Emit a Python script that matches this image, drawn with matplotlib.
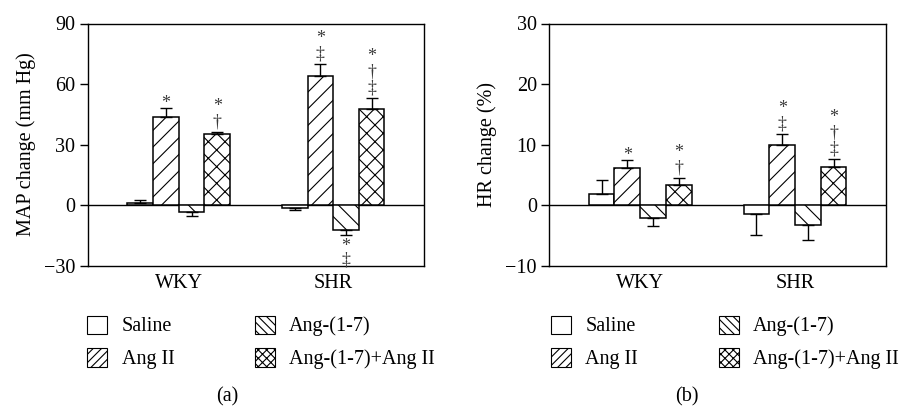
import matplotlib
matplotlib.use("Agg")
import matplotlib.pyplot as plt
from matplotlib.patches import Patch
import numpy as np

plt.rcParams['font.family'] = ['Liberation Serif', 'DejaVu Serif']
plt.rcParams['hatch.linewidth'] = 0.8

groups = ['WKY', 'SHR']
treatments = ['Saline', 'Ang II', 'Ang-(1-7)', 'Ang-(1-7)+Ang II']
hatches = ['', '//', '\\\\', 'xx']
legend_hatches = ['', '////', '\\\\\\\\', 'xxxx']

# MAP change (mm Hg): rows = treatments, cols = groups
map_vals = [[1.3, -1.2], [43.5, 64.0], [-3.6, -12.1], [35.2, 47.7]]
map_errs = [[1.2, 1.0], [4.8, 5.9], [1.9, 2.8], [1.1, 5.6]]
# significance marks, listed from the bar outward
map_marks = [['', ''], ['*', '‡*'], ['', '*‡'], ['†*', '‡†*']]

# HR change (%)
hr_vals = [[1.8, -1.4], [6.1, 9.9], [-2.15, -3.3], [3.25, 6.3]]
hr_errs = [[2.3, 3.6], [1.3, 1.8], [1.25, 2.5], [1.25, 1.4]]
hr_marks = [['', ''], ['*', '‡*'], ['', ''], ['†*', '‡†*']]

DPI = 100
fig = plt.figure(figsize=(9.09, 4.08), dpi=DPI)
W, H = 909.0, 408.0

def ax_rect(x0, x1, y0, y1):
    return [x0 / W, 1 - y1 / H, (x1 - x0) / W, (y1 - y0) / H]

axA = fig.add_axes(ax_rect(88, 424, 23.5, 265.7))
axB = fig.add_axes(ax_rect(549.3, 886, 23.5, 265.7))

bw = 0.166
offsets = [-1.5, -0.5, 0.5, 1.5]
FS = 14.5

def place_marks(ax, x, end, up, marks):
    kw = dict(textcoords='offset pixels', ha='center', multialignment='center',
              fontsize=13, color='#3a3a3a', zorder=4, annotation_clip=False)
    if up:
        txt = '\n'.join(reversed(list(marks)))
        off = -4 if marks[0] == '*' else 1.5
        ax.annotate(txt, (x, end), xytext=(0, off), va='bottom',
                    linespacing=0.9, **kw)
    else:
        txt = '\n'.join(list(marks))
        ax.annotate(txt, (x, end), xytext=(0, -3), va='top',
                    linespacing=0.72, **kw)

def draw(ax, vals, errs, marks, ylim, yticks, ylabel):
    x = np.arange(len(groups))
    for i, t in enumerate(treatments):
        xs = x + offsets[i] * bw
        v = np.array(vals[i])
        e = np.array(errs[i])
        ax.bar(xs, v, bw, facecolor='white', edgecolor='black', linewidth=1.1,
               hatch=hatches[i], zorder=2)
        lo = np.where(v < 0, e, 0)
        hi = np.where(v >= 0, e, 0)
        ax.errorbar(xs, v, yerr=[lo, hi], fmt='none', ecolor='black',
                    elinewidth=1.0, capsize=4, capthick=1.0, zorder=3)
        for j in range(len(groups)):
            m = marks[i][j]
            if not m:
                continue
            up = v[j] >= 0
            end = v[j] + e[j] if up else v[j] - e[j]
            place_marks(ax, xs[j], end, up, m)
    ax.axhline(0, color='black', linewidth=1.0, zorder=1)
    ax.set_xlim(-0.587, 1.588)
    ax.set_ylim(*ylim)
    ax.set_yticks(yticks)
    ax.set_yticklabels([('\u2212' + str(-t)) if t < 0 else str(t) for t in yticks])
    ax.set_xticks(x)
    ax.set_xticklabels(groups)
    ax.tick_params(axis='y', direction='out', length=6, width=1.0, pad=3,
                   labelsize=FS)
    ax.tick_params(axis='x', length=0, pad=6, labelsize=FS)
    for s in ax.spines.values():
        s.set_linewidth(1.0)
    ax.set_ylabel(ylabel, fontsize=FS, labelpad=6)

draw(axA, map_vals, map_errs, map_marks, (-30, 90), [-30, 0, 30, 60, 90],
     'MAP change (mm Hg)')
draw(axB, hr_vals, hr_errs, hr_marks, (-10, 30), [-10, 0, 10, 20, 30],
     'HR change (%)')

handles = [Patch(facecolor='white', edgecolor='black', linewidth=0.8,
                 hatch=h) for h in legend_hatches]
for xleft in [87.3, 551]:
    fig.legend(handles, treatments,
               loc='upper left', bbox_to_anchor=(xleft / W, 1 - 315.5 / H),
               ncol=2, frameon=False, fontsize=FS, handlelength=1.0,
               handleheight=1.0, handletextpad=0.7, columnspacing=4.0,
               labelspacing=0.6, borderpad=0, borderaxespad=0)

fig.text(227 / W, 1 - 397 / H, '(a)', ha='center', va='center', fontsize=FS)
fig.text(687 / W, 1 - 397 / H, '(b)', ha='center', va='center', fontsize=FS)

fig.savefig('out.png', dpi=DPI)
